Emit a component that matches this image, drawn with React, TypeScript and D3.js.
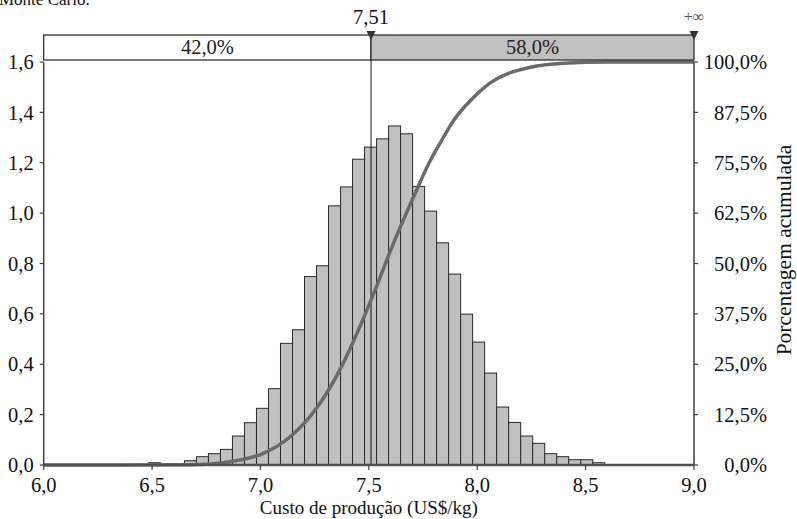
import React from "react";
import * as d3 from "d3";

// ---- data ----
const binStart = 6.483;
const binWidth = 0.0554;
const densities = [
  0.009, 0, 0, 0.017, 0.033, 0.045, 0.062, 0.115, 0.168, 0.225, 0.303, 0.483,
  0.537, 0.748, 0.791, 1.029, 1.104, 1.214, 1.262, 1.295, 1.346, 1.315, 1.106,
  1.008, 0.882, 0.758, 0.599, 0.488, 0.365, 0.23, 0.169, 0.115, 0.086, 0.045,
  0.033, 0.021, 0.021, 0.009,
];
const cumX = [6.0, 6.6, 6.75, 6.845, 6.937, 7.0, 7.137, 7.26, 7.368, 7.476, 7.537, 7.6, 7.706, 7.783, 7.83, 7.891, 7.976, 8.06, 8.245, 8.4, 8.6, 9.0];
const cumPct = [0, 0.05, 0.2, 0.7, 1.6, 2.6, 7.0, 14.2, 23.8, 36.5, 44.5, 53.2, 66.5, 75.5, 80.0, 85.5, 90.8, 94.8, 98.7, 99.7, 100, 100];
const xTicks = [6.0, 6.5, 7.0, 7.5, 8.0, 8.5, 9.0];
const xTickLabels = ["6,0", "6,5", "7,0", "7,5", "8,0", "8,5", "9,0"];
const yTicks = [0, 0.2, 0.4, 0.6, 0.8, 1.0, 1.2, 1.4, 1.6];
const yTickLabels = ["0,0", "0,2", "0,4", "0,6", "0,8", "1,0", "1,2", "1,4", "1,6"];
const rTicks = [0, 12.5, 25, 37.5, 50, 62.5, 75, 87.5, 100];
const rTickLabels = ["0,0%", "12,5%", "25,0%", "37,5%", "50,0%", "62,5%", "75,5%", "87,5%", "100,0%"];
const cutValue = 7.51;
const cutLabel = "7,51";
const leftPct = "42,0%";
const rightPct = "58,0%";
const xTitle = "Custo de produção (US$/kg)";
const rTitle = "Porcentagem acumulada";

const W = 797;
const H = 519;
const FONT = "Liberation Serif, DejaVu Serif, Times New Roman, serif";

export default function App() {
  const x = d3.scaleLinear().domain([6, 9]).range([43.7, 694]);
  const y = d3.scaleLinear().domain([0, 1.6]).range([465, 62]);
  const yr = d3.scaleLinear().domain([0, 100]).range([465, 62]);
  const line = d3
    .line<number>()
    .x((_, i) => x(cumX[i]))
    .y((d) => yr(d))
    .curve(d3.curveMonotoneX);

  const [x0, x1] = x.range();
  const bandTop = 35;
  const bandBot = 60;
  const axisColor = "#404040";
  const tick = 20.5;

  return (
    <svg
      width={W}
      height={H}
      style={{ position: "absolute", left: 0, top: 0, background: "#fff", fontFamily: FONT }}
    >
      <text x={-1} y={5} fontSize={17} fill="#111">Monte Carlo.</text>

      {/* histogram */}
      {densities.map((d, i) => {
        if (d <= 0) return null;
        const a = binStart + i * binWidth;
        return (
          <rect
            key={i}
            x={x(a)}
            y={y(d)}
            width={x(a + binWidth) - x(a)}
            height={y(0) - y(d)}
            fill="#c0c0c0"
            stroke="#2a2a2a"
            strokeWidth={1}
          />
        );
      })}

      {/* cut line */}
      <line x1={x(cutValue)} x2={x(cutValue)} y1={bandTop} y2={y(0)} stroke="#111" strokeWidth={1} />

      {/* cumulative curve */}
      <path d={line(cumPct) || ""} fill="none" stroke="#6a6a6a" strokeWidth={3.5} strokeLinejoin="round" />

      {/* axes */}
      <line x1={x0} x2={x0} y1={y(1.6)} y2={y(0)} stroke={axisColor} strokeWidth={1.5} />
      <line x1={x1} x2={x1} y1={y(1.6)} y2={y(0)} stroke={axisColor} strokeWidth={1.5} />
      <line x1={x0} x2={x1} y1={y(0)} y2={y(0)} stroke="#505050" strokeWidth={2.5} />

      {yTicks.map((t, i) => (
        <g key={"y" + i}>
          <line x1={x0 - 4} x2={x0} y1={y(t)} y2={y(t)} stroke={axisColor} strokeWidth={1.2} />
          <text x={x0 - 10} y={y(t)} dy="0.35em" textAnchor="end" fontSize={tick} fill="#111">
            {yTickLabels[i]}
          </text>
        </g>
      ))}
      {rTicks.map((t, i) => (
        <g key={"r" + i}>
          <line x1={x1} x2={x1 + 4} y1={yr(t)} y2={yr(t)} stroke={axisColor} strokeWidth={1.2} />
          <text x={767} y={yr(t)} dy="0.35em" textAnchor="end" fontSize={tick} fill="#111">
            {rTickLabels[i]}
          </text>
        </g>
      ))}
      {xTicks.map((t, i) => (
        <g key={"x" + i}>
          <line x1={x(t)} x2={x(t)} y1={y(0)} y2={y(0) + 5} stroke={axisColor} strokeWidth={1.2} />
          <text x={x(t)} y={492} textAnchor="middle" fontSize={tick} fill="#111">
            {xTickLabels[i]}
          </text>
        </g>
      ))}

      <text x={(x0 + x1) / 2} y={514} textAnchor="middle" fontSize={19} fill="#111">
        {xTitle}
      </text>
      <text
        transform={`translate(791,250) rotate(-90)`}
        textAnchor="middle"
        fontSize={21.5}
        fill="#111"
      >
        {rTitle}
      </text>

      {/* top band */}
      <rect x={x0} y={bandTop} width={x(cutValue) - x0} height={bandBot - bandTop} fill="#fff" stroke="#222" strokeWidth={1.2} />
      <rect x={x(cutValue)} y={bandTop} width={x1 - x(cutValue)} height={bandBot - bandTop} fill="#c0c0c0" stroke="#222" strokeWidth={1.2} />
      <text x={(x0 + x(cutValue)) / 2} y={54} textAnchor="middle" fontSize={tick} fill="#222">
        {leftPct}
      </text>
      <text x={(x(cutValue) + x1) / 2} y={54} textAnchor="middle" fontSize={tick} fill="#222">
        {rightPct}
      </text>
      {[x(cutValue), x1].map((px, i) => (
        <path key={"tri" + i} d={`M${px - 4.5},31 L${px + 4.5},31 L${px},40 Z`} fill="#333" />
      ))}
      <text x={x(cutValue)} y={24} textAnchor="middle" fontSize={tick} fill="#111">
        {cutLabel}
      </text>
      <text x={x1} y={22} textAnchor="middle" fontSize={16} fill="#555">
        +∞
      </text>
    </svg>
  );
}
